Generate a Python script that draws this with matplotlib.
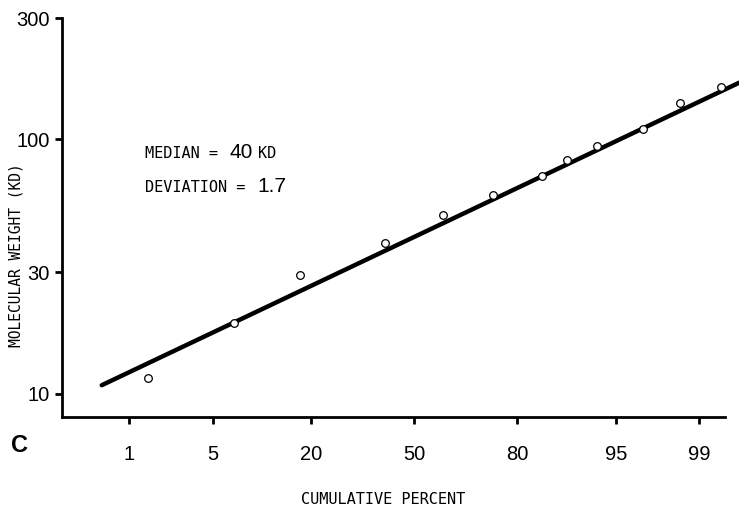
import numpy as np
import matplotlib
matplotlib.use("Agg")
import matplotlib.pyplot as plt
from statistics import NormalDist

# data
pct_points = [1.5, 7.1, 17.6, 40.6, 59.4, 74.1, 85.2, 89.4, 93.2, 96.9, 98.5, 99.39]
mw_points = [11.5, 18.9, 29.4, 39.3, 50.5, 60.4, 71.6, 82.7, 93.9, 110, 139.6, 161]
fit_pct = [0.54, 99.6]
fit_mw = [10.8, 167]
x_ticks = [1, 5, 20, 50, 80, 95, 99]
y_ticks = [10, 30, 100, 300]

nd = NormalDist()
_ppf = np.vectorize(lambda v: nd.inv_cdf(v / 100.0), otypes=[float])
_cdf = np.vectorize(lambda v: nd.cdf(v) * 100.0, otypes=[float])

# probit scale for cumulative percent
def fwd(p):
    p = np.clip(np.asarray(p, dtype=float), 1e-6, 100 - 1e-6)
    return _ppf(p)

def inv(z):
    return _cdf(np.asarray(z, dtype=float))

W, H = 739, 512
fig = plt.figure(figsize=(W / 100, H / 100), dpi=100)
ax = fig.add_axes([62 / W, 1 - 417 / H, (725 - 62) / W, (417 - 18) / H])

ax.set_xscale('function', functions=(fwd, inv))
ax.set_yscale('log')
ax.set_xlim(0.203, 99.44)
ax.set_ylim(8.1, 300)

ax.plot(fit_pct, fit_mw, color='black', lw=3.2, solid_capstyle='round', clip_on=False)
ax.plot(pct_points, mw_points, 'o', mfc='white', mec='black', ms=5.5, mew=0.9, zorder=3)

for s in ['top', 'right']:
    ax.spines[s].set_visible(False)
for s in ['left', 'bottom']:
    ax.spines[s].set_linewidth(2)

tick_font = ['Liberation Sans', 'DejaVu Sans']
ax.set_xticks(x_ticks)
ax.set_xticklabels([str(t) for t in x_ticks], family=tick_font, fontsize=14.5)
ax.set_yticks(y_ticks)
ax.set_yticklabels([str(t) for t in y_ticks], family=tick_font, fontsize=14.5)
ax.minorticks_off()
ax.tick_params(axis='x', length=5, width=2, pad=15)
ax.tick_params(axis='y', length=5, width=2, pad=4)

mono = 'DejaVu Sans Mono'
fig.text(383 / W, 1 - 500 / H, 'CUMULATIVE PERCENT', ha='center', va='center',
         family=mono, fontsize=11)
fig.text(16 / W, 1 - 255 / H, 'MOLECULAR WEIGHT (KD)', ha='center', va='center',
         rotation=90, family=mono, fontsize=10.5)

# annotation
fig.text(145 / W, 1 - 158 / H, 'MEDIAN =', ha='left', va='baseline', family=mono, fontsize=11)
fig.text(229 / W, 1 - 158 / H, '40', ha='left', va='baseline', family=tick_font, fontsize=15)
fig.text(258 / W, 1 - 158 / H, 'KD', ha='left', va='baseline', family=mono, fontsize=11)
fig.text(145 / W, 1 - 192 / H, 'DEVIATION =', ha='left', va='baseline', family=mono, fontsize=11)
fig.text(257 / W, 1 - 192 / H, '1.7', ha='left', va='baseline', family=tick_font, fontsize=15)

fig.text(20 / W, 1 - 445 / H, 'C', ha='center', va='center', family=['Liberation Sans', 'DejaVu Sans'],
         fontsize=17, fontweight='bold')

fig.savefig('out.png', dpi=100)
